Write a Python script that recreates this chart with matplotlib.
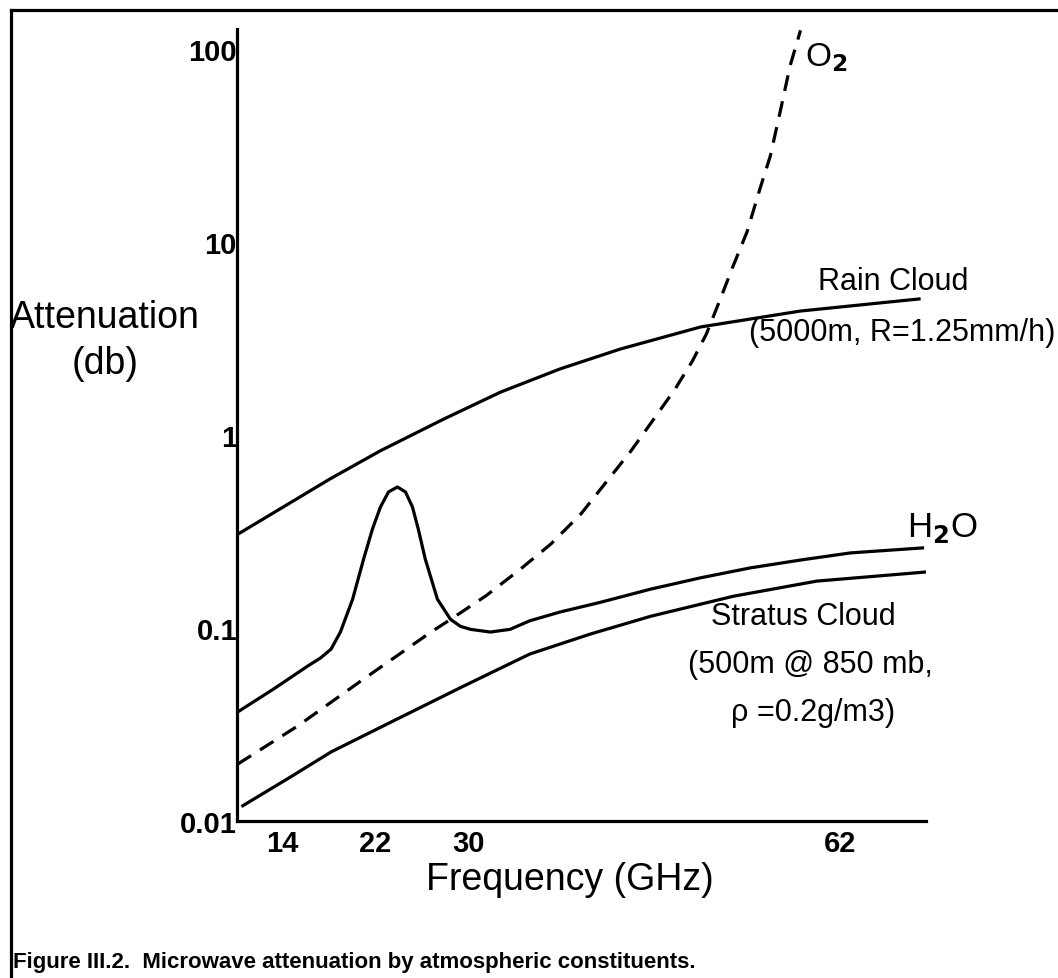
import matplotlib.pyplot as plt
from matplotlib.lines import Line2D

plt.rcParams['font.family'] = ['Liberation Sans', 'DejaVu Sans']

# values (GHz, dB)
rain_f = [10.2, 13.8, 18.1, 22.4, 27.9, 32.8, 37.9, 43.1, 50.0, 58.6, 68.8]
rain_db = [0.307, 0.414, 0.592, 0.826, 1.21, 1.67, 2.20, 2.79, 3.63, 4.39, 5.07]

h2o_f = [10.15, 13.25, 16.2, 17.3, 18.2, 19.0, 20.05, 21.0, 21.76, 22.45,
         23.14, 23.91, 24.6, 25.2, 25.7, 26.3, 27.35, 28.47, 29.33, 30.2,
         31.9, 33.6, 35.3, 37.9, 41.4, 45.7, 50.0, 54.3, 58.6, 62.9, 69.1]
h2o_db = [0.0367, 0.0483, 0.0636, 0.070, 0.0778, 0.0953, 0.141, 0.228, 0.326, 0.424,
          0.507, 0.538, 0.507, 0.424, 0.326, 0.228, 0.141, 0.111, 0.102, 0.0984,
          0.0953, 0.0984, 0.109, 0.121, 0.136, 0.159, 0.182, 0.205, 0.225, 0.245, 0.260]

stratus_f = [10.6, 14.7, 18.2, 23.9, 29.6, 35.3, 40.5, 45.7, 52.8, 60.0, 69.35]
stratus_db = [0.0120, 0.0169, 0.0228, 0.0338, 0.050, 0.0733, 0.093, 0.115, 0.146, 0.175, 0.195]

o2_f = [10.15, 15.3, 21.0, 26.8, 28.5, 31.5, 34.5, 37.1, 39.7, 41.4,
        44.0, 46.1, 47.8, 49.3, 50.5, 51.7, 52.8, 54.0, 55.1, 56.0,
        56.9, 57.7, 58.6]
o2_db = [0.0197, 0.031, 0.0544, 0.0953, 0.111, 0.1465, 0.202, 0.272, 0.390, 0.525,
         0.826, 1.24, 1.73, 2.42, 3.34, 5.07, 7.51, 11.3, 18.8, 27.9,
         48.9, 81.7, 125]

x_ticks = [14, 22, 30, 62]
y_ticks = [0.01, 0.1, 1, 10, 100]
y_labels = ['0.01', '0.1', '1', '10', '100']

W, H = 1058, 979
fig = plt.figure(figsize=(W / 100, H / 100), dpi=100)
ax = fig.add_axes([237 / W, 1 - 822 / H, (926 - 237) / W, (822 - 30) / H])


def px(x, y):
    return x / W, 1 - y / H


lw = 2.3
ax.plot(rain_f, rain_db, color='black', lw=lw, solid_joinstyle='round')
ax.plot(h2o_f, h2o_db, color='black', lw=lw, solid_joinstyle='round')
ax.plot(stratus_f, stratus_db, color='black', lw=lw, solid_joinstyle='round')
ax.plot(o2_f, o2_db, color='black', lw=lw, dashes=(5, 3.3), dash_capstyle='butt')

ax.set_yscale('log')
ax.set_ylim(0.01, 127)
ax.set_xlim(10.1, 69.4)
ax.set_yticks(y_ticks, y_labels)
ax.set_xticks(x_ticks, [str(t) for t in x_ticks])
ax.minorticks_off()
ax.tick_params(length=0, labelsize=21)
ax.tick_params(axis='y', pad=0)
ax.tick_params(axis='x', pad=6)
for lab in ax.get_xticklabels() + ax.get_yticklabels():
    lab.set_fontweight('bold')
ax.spines['top'].set_visible(False)
ax.spines['right'].set_visible(False)
ax.spines['left'].set_linewidth(2.3)
ax.spines['bottom'].set_linewidth(2.3)

# outer frame of the scanned page
fig.add_artist(Line2D([11 / W, 11 / W], [0, 1 - 11 / H], color='black', lw=2.3))
fig.add_artist(Line2D([11 / W, 1], [1 - 11 / H, 1 - 11 / H], color='black', lw=2.3))

fs = 22
fig.text(*px(105, 318), 'Attenuation', fontsize=27, ha='center', va='center')
fig.text(*px(105, 364), '(db)', fontsize=27, ha='center', va='center')
fig.text(*px(570, 880), 'Frequency (GHz)', fontsize=27, ha='center', va='center')

fig.text(*px(893, 282), 'Rain Cloud', fontsize=fs, ha='center', va='center')
fig.text(*px(902, 333), '(5000m, R=1.25mm/h)', fontsize=fs, ha='center', va='center')
fig.text(*px(803, 617), 'Stratus Cloud', fontsize=fs, ha='center', va='center')
fig.text(*px(810, 665), '(500m @ 850 mb,', fontsize=fs, ha='center', va='center')
fig.text(*px(813, 713), 'ρ =0.2g/m3)', fontsize=fs, ha='center', va='center')
fig.text(*px(942, 528), r'H$_\mathbf{2}$O', fontsize=25, ha='center', va='center')
fig.text(*px(826, 58), r'O$_\mathbf{2}$', fontsize=24, ha='center', va='center')

fig.text(*px(13, 963), 'Figure III.2.  Microwave attenuation by atmospheric constituents.',
         fontsize=16, fontweight='bold', ha='left', va='center')

fig.savefig('out.png', dpi=100)
